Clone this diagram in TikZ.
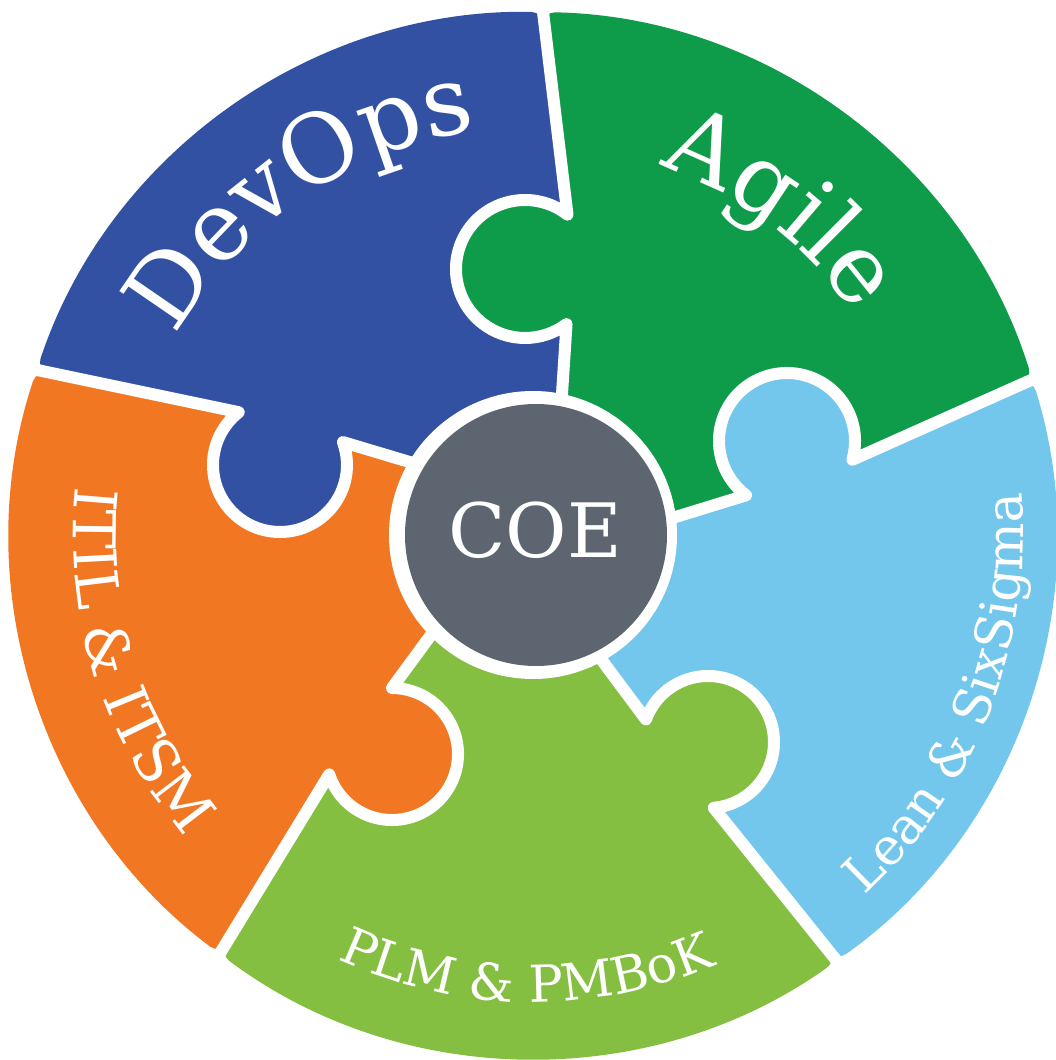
\documentclass[tikz,border=0pt]{standalone}
\usepackage{fontspec}
\setmainfont{DejaVu Serif}
\usetikzlibrary{calc,decorations.text}

\definecolor{devblue}{HTML}{3351A3}
\definecolor{agilegreen}{HTML}{0E9B4A}
\definecolor{leanblue}{HTML}{73C6EC}
\definecolor{plmgreen}{HTML}{84BF41}
\definecolor{itilorange}{HTML}{F27722}
\definecolor{coegrey}{HTML}{5D6670}

\newcommand\labelbig{\fontsize{96}{96}\selectfont}
\newcommand\labelmid{\fontsize{59}{59}\selectfont}
\newcommand\labelsmall{\fontsize{51}{51}\selectfont}

\begin{document}
\begin{tikzpicture}[x=1pt,y=1pt,
  piece/.style={rounded corners=12pt},
  seam/.style={draw=white,line width=12pt,line join=round,line cap=round},
  rimtext/.style={decorate,decoration={text along path,text align=center,text color=white,text={#1}}}]

\useasboundingbox[fill=white] (-533,-525) rectangle (522,535);
\def\R{523}

% outer ends of the five seams
\coordinate (O1) at (88.9:\R);
\coordinate (O2) at (17.3:\R);
\coordinate (O3) at (-54.5:\R);
\coordinate (O4) at (233.2:\R);
\coordinate (O5) at (161.6:\R);

% knob heads (centre) and the two neck points of each seam
\coordinate (K1) at (-8,266);
\coordinate (A1) at ($(K1)+(52:69)$);
\coordinate (B1) at ($(K1)+(307:69)$);
\coordinate (I1) at (27,110);

\coordinate (K2) at (254,94);
\coordinate (A2) at ($(K2)+(-16:68)$);
\coordinate (B2) at ($(K2)+(233:68)$);
\coordinate (I2) at (110,8);

\coordinate (K3) at (175,-207);
\coordinate (A3) at ($(K3)+(-85:66)$);
\coordinate (B3) at ($(K3)+(160:66)$);
\coordinate (I3) at (50,-100);

\coordinate (K4) at (-141,-219);
\coordinate (A4) at ($(K4)+(198:66)$);
\coordinate (B4) at ($(K4)+(90:66)$);
\coordinate (I4) at (-80,-70);

\coordinate (K5) at (-253,70);
\coordinate (A5) at ($(K5)+(128:67)$);
\coordinate (B5) at ($(K5)+(20:67)$);
\coordinate (I5) at (-90,63);

% puzzle pieces
\fill[devblue,piece] (I1) -- (B1) -- (A1) -- (O1) arc[start angle=88.9,end angle=161.6,radius=\R]
  -- (A5) -- (B5) -- (I5) -- (0,0) -- cycle;
\fill[agilegreen,piece] (I2) -- (B2) -- (A2) -- (O2) arc[start angle=17.3,end angle=88.9,radius=\R]
  -- (A1) -- (B1) -- (I1) -- (0,0) -- cycle;
\fill[leanblue,piece] (I3) -- (B3) -- (A3) -- (O3) arc[start angle=-54.5,end angle=17.3,radius=\R]
  -- (A2) -- (B2) -- (I2) -- (0,0) -- cycle;
\fill[plmgreen,piece] (I4) -- (B4) -- (A4) -- (O4) arc[start angle=233.2,end angle=305.5,radius=\R]
  -- (A3) -- (B3) -- (I3) -- (0,0) -- cycle;
\fill[itilorange,piece] (I5) -- (B5) -- (A5) -- (O5) arc[start angle=161.6,end angle=233.2,radius=\R]
  -- (A4) -- (B4) -- (I4) -- (0,0) -- cycle;

% knob heads
\fill[agilegreen] (K1) circle[radius=69];
\fill[leanblue] (K2) circle[radius=68];
\fill[plmgreen] (K3) circle[radius=66];
\fill[itilorange] (K4) circle[radius=66];
\fill[devblue] (K5) circle[radius=67];

% white seams between the pieces
\draw[seam] (O1) -- (A1) arc[start angle=52,end angle=307,radius=69] -- (I1);
\draw[seam] (O2) -- (A2) arc[start angle=-16,end angle=233,radius=68] -- (I2);
\draw[seam] (O3) -- (A3) arc[start angle=-85,end angle=160,radius=66] -- (I3);
\draw[seam] (O4) -- (A4) arc[start angle=198,end angle=450,radius=66] -- (I4);
\draw[seam] (O5) -- (A5) arc[start angle=128,end angle=380,radius=67] -- (I5);

% centre hub
\fill[white] (0,0) circle[radius=144];
\fill[coegrey] (3,0) circle[radius=131];
\node[text=white,font=\fontsize{75}{75}\selectfont] (coe) at (2,5) {COE};

% labels along the rim
\path[rimtext={|\labelbig|DevOps}] (194.4:408) arc[start angle=194.4,end angle=54.4,radius=408];
\path[rimtext={|\labelbig|Agile}] (122.8:390) arc[start angle=122.8,end angle=-17.2,radius=390];
\path[rimtext={|\labelmid|ITIL {\&} ITSM}] (127.5:460) arc[start angle=127.5,end angle=267.5,radius=460];
\path[rimtext={|\labelsmall|PLM {\&} PMBoK}] (199.2:467) arc[start angle=199.2,end angle=339.2,radius=467];
\path[rimtext={|\labelsmall|Lean {\&} SixSigma}] (-91.2:490) arc[start angle=-91.2,end angle=48.8,radius=490];

\end{tikzpicture}
\end{document}
